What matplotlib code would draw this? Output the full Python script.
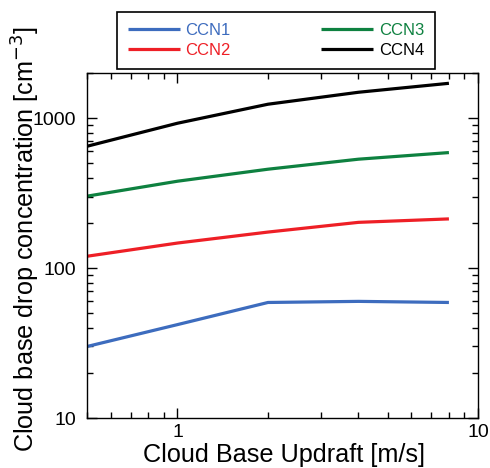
import matplotlib
matplotlib.use("Agg")
import matplotlib.pyplot as plt
from matplotlib.ticker import LogLocator, NullFormatter, FixedLocator, FixedFormatter

plt.rcParams['font.family'] = ['Liberation Sans', 'DejaVu Sans']

updraft = [0.5, 1, 2, 4, 8]
ccn1 = [30, 42, 59, 60, 59]
ccn2 = [120, 147, 174, 202, 213]
ccn3 = [302, 380, 457, 533, 590]
ccn4 = [650, 926, 1240, 1490, 1710]
labels = ['CCN1', 'CCN2', 'CCN3', 'CCN4']
colors = ['#3D6CBE', '#EE1F26', '#0E8140', '#000000']

fig = plt.figure(figsize=(4.9, 4.68), dpi=100)
ax = fig.add_axes([0.1776, 0.1068, 0.798, 0.737])

handles = []
for ys, lab, c in zip([ccn1, ccn2, ccn3, ccn4], labels, colors):
    h, = ax.plot(updraft, ys, color=c, lw=2.3, label=lab, solid_capstyle='butt')
    handles.append(h)

ax.set_xscale('log')
ax.set_yscale('log')
ax.set_xlim(0.5, 10)
ax.set_ylim(10, 2000)

ax.xaxis.set_major_locator(FixedLocator([1, 10]))
ax.xaxis.set_major_formatter(FixedFormatter(['1', '10']))
ax.xaxis.set_minor_locator(LogLocator(base=10, subs=range(2, 10)))
ax.xaxis.set_minor_formatter(NullFormatter())
ax.yaxis.set_major_locator(FixedLocator([10, 100, 1000]))
ax.yaxis.set_major_formatter(FixedFormatter(['10', '100', '1000']))
ax.yaxis.set_minor_locator(LogLocator(base=10, subs=range(2, 10)))
ax.yaxis.set_minor_formatter(NullFormatter())

ax.tick_params(which='both', direction='in', top=True, right=True, width=1)
ax.tick_params(which='major', length=7, labelsize=14)
ax.tick_params(axis='x', which='major', pad=4.5)
ax.tick_params(axis='y', which='major', pad=8)
ax.tick_params(which='minor', length=4)
for s in ax.spines.values():
    s.set_linewidth(1)

ax.set_xlabel('Cloud Base Updraft [m/s]', fontsize=18.2, va='baseline')
ax.xaxis.set_label_coords(0.504, -0.128)
ax.set_ylabel('Cloud base drop concentration [cm$^{-3}$]', fontsize=18.2)
ax.yaxis.set_label_coords(-0.116, 0.52)

leg = fig.legend(handles=handles, labels=labels, ncol=2, mode='expand',
                 loc='upper left',
                 bbox_to_anchor=(0.2388, 0.974, 0.649, 0.0),
                 bbox_transform=fig.transFigure,
                 fontsize=12, handlelength=3.1, handletextpad=0.36,
                 borderaxespad=0, fancybox=False, edgecolor='black',
                 framealpha=1, labelspacing=0.28, borderpad=0.65)
leg.get_frame().set_linewidth(1.2)
for t, c in zip(leg.get_texts(), colors):
    t.set_color(c)

fig.savefig('out.png', dpi=100)
